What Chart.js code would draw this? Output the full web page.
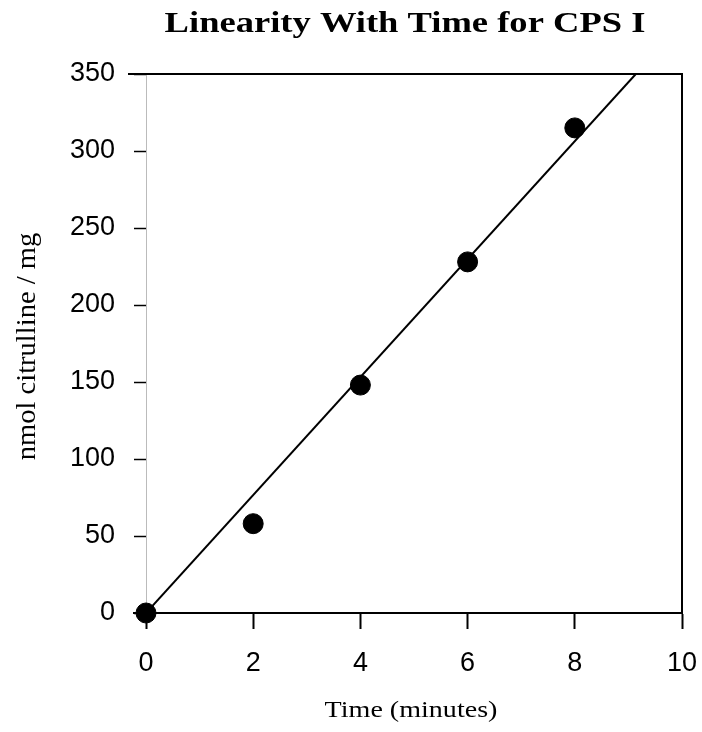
<!DOCTYPE html>
<html>
<head>
<meta charset="utf-8">
<script src="https://cdn.jsdelivr.net/npm/chart.js@4/dist/chart.umd.min.js"></script>
<style>
  html, body { margin: 0; padding: 0; background: #fff; }
  #wrap { width: 702px; height: 732px; }
</style>
</head>
<body>
<div id="wrap"><canvas id="chart" width="702" height="732"></canvas></div>
<script>
// CPS I assay: citrulline produced vs. incubation time
const timeMinutes = [0, 2, 4, 6, 8];
const citrulline = [0, 58, 148, 228, 315];
const xTicks = [0, 2, 4, 6, 8, 10];
const yTicks = [0, 50, 100, 150, 200, 250, 300, 350];

const TITLE = "Linearity With Time for CPS I";
const X_TITLE = "Time (minutes)";
const Y_TITLE = "nmol citrulline / mg";
const Y_MAX = 350;

// regression forced through the origin
const slope = timeMinutes.reduce((s, t, i) => s + t * citrulline[i], 0) /
  timeMinutes.reduce((s, t) => s + t * t, 0);
const fitLine = [0, Y_MAX].map((y) => ({ x: y / slope, y }));

const serif = "'Liberation Serif', 'Times New Roman', serif";

function wideText(ctx, text, x, y, font, stretch, angle) {
  ctx.save();
  ctx.translate(x, y);
  if (angle) ctx.rotate(angle);
  ctx.scale(stretch, 1);
  ctx.font = font;
  ctx.fillStyle = "#000";
  ctx.textAlign = "center";
  ctx.textBaseline = "alphabetic";
  ctx.fillText(text, 0, 0);
  ctx.restore();
}

// frame edges plus the title and axis captions (wide serif)
const decorations = {
  id: "decorations",
  afterDraw(chart) {
    const { ctx, chartArea: a } = chart;
    ctx.save();
    ctx.strokeStyle = "#000";
    ctx.lineWidth = 2;
    ctx.beginPath();
    ctx.moveTo(a.left - 18, a.top);
    ctx.lineTo(a.right, a.top);
    ctx.lineTo(a.right, a.bottom);
    ctx.stroke();
    ctx.beginPath();
    ctx.moveTo(a.left - 13, a.bottom);
    ctx.lineTo(a.left, a.bottom);
    ctx.stroke();
    ctx.restore();

    const cy = (a.top + a.bottom) / 2;
    wideText(ctx, TITLE, 405, 32, `bold 29px ${serif}`, 1.26);
    wideText(ctx, X_TITLE, 411, 717, `23px ${serif}`, 1.22);
    wideText(ctx, Y_TITLE, 35, cy + 3, `28px ${serif}`, 1.02, -Math.PI / 2);
  },
};

const tickFont = { family: "'Liberation Sans', Arial, sans-serif", size: 27 };

new Chart(document.getElementById("chart").getContext("2d"), {
  type: "scatter",
  data: {
    datasets: [
      {
        type: "line",
        label: "fit",
        data: fitLine,
        borderColor: "#000",
        borderWidth: 2,
        pointRadius: 0,
        fill: false,
      },
      {
        label: "CPS I",
        data: timeMinutes.map((t, i) => ({ x: t, y: citrulline[i] })),
        backgroundColor: "#000",
        borderColor: "#000",
        pointRadius: 10,
        pointHoverRadius: 10,
        clip: false,
      },
    ],
  },
  options: {
    responsive: false,
    animation: false,
    events: [],
    layout: { padding: { left: 0, right: 0, top: 74, bottom: 0 } },
    plugins: {
      legend: { display: false },
      tooltip: { enabled: false },
      title: { display: false },
    },
    scales: {
      x: {
        type: "linear",
        min: 0,
        max: 10,
        afterBuildTicks: (s) => { s.ticks = xTicks.map((v) => ({ value: v })); },
        afterFit: (s) => { s.height = 119; s.paddingLeft = 0; s.paddingRight = 20; },
        grid: { drawOnChartArea: false, tickLength: 16, tickWidth: 2, tickColor: "#000" },
        border: { color: "#000", width: 2 },
        ticks: { color: "#000", font: tickFont, padding: 18 },
      },
      y: {
        type: "linear",
        min: 0,
        max: Y_MAX,
        afterBuildTicks: (s) => { s.ticks = yTicks.map((v) => ({ value: v })); },
        afterFit: (s) => { s.width = 146; },
        grid: { drawOnChartArea: false, tickLength: 12, tickWidth: 1.5, tickColor: "#000" },
        border: { color: "#bbb", width: 1, dash: [2, 4] },
        ticks: { color: "#000", font: tickFont, padding: 19 },
      },
    },
  },
  plugins: [decorations],
});
</script>
</body>
</html>
